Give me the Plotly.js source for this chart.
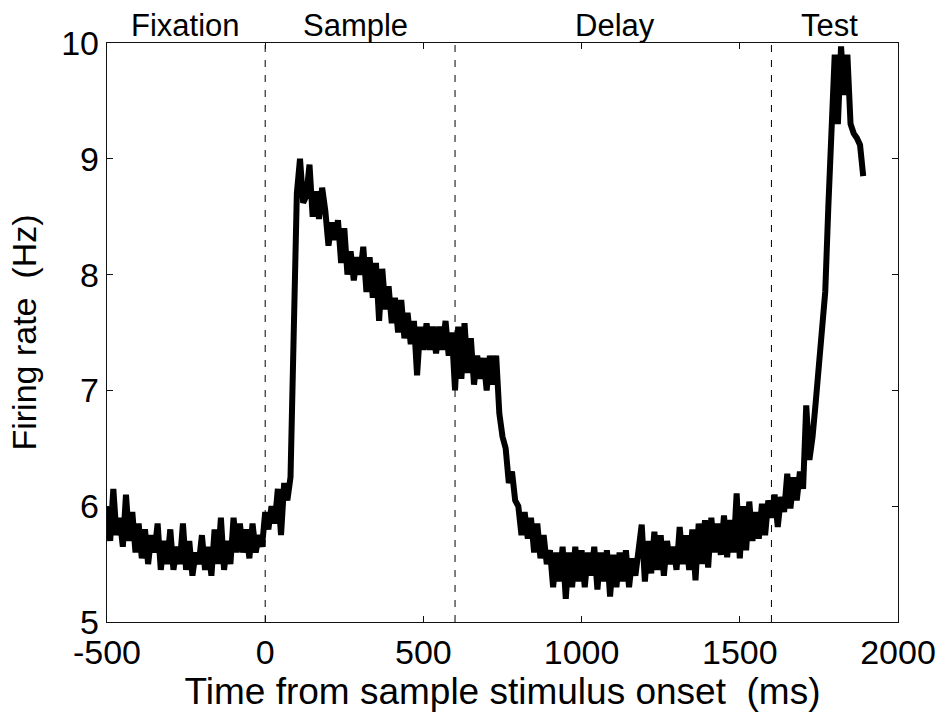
<!DOCTYPE html>
<html>
<head>
<meta charset="utf-8">
<script src="https://cdn.plot.ly/plotly-3.0.1.min.js"></script>
<style>
  html, body { margin: 0; padding: 0; background: #fff; }
  #chart { width: 948px; height: 718px; }
</style>
</head>
<body>
<div id="chart"></div>
<script>
// Population firing rate, 10 ms bins starting at -500 ms
const binStart = -500;
const binWidth = 10;

const fixationRate = [
  6.0, 5.7, 6.15, 5.75, 5.9, 5.65, 6.1, 5.7, 5.95, 5.6,
  5.85, 5.55, 5.8, 5.5, 5.75, 5.6, 5.85, 5.45, 5.7, 5.5,
  5.8, 5.45, 5.65, 5.5, 5.85, 5.45, 5.7, 5.4, 5.6, 5.5,
  5.75, 5.45, 5.65, 5.4, 5.8, 5.5, 5.9, 5.45, 5.7, 5.5,
  5.9, 5.6, 5.85, 5.6, 5.8, 5.55, 5.85, 5.6, 5.75, 5.65
];
const sampleRate = [
  5.95, 5.8, 6.0, 5.85, 6.15, 5.75, 6.2, 6.05, 6.25, 7.4,
  8.7, 9.0, 8.62, 8.68, 8.95, 8.5, 8.72, 8.48, 8.75, 8.55,
  8.25, 8.45, 8.3, 8.47, 8.1, 8.4, 8.0, 8.2, 7.95, 8.15,
  8.0, 8.24, 7.85, 8.15, 7.8, 8.1, 7.6, 8.05, 7.7, 7.9,
  7.58, 7.8, 7.5, 7.78, 7.45, 7.67, 7.4, 7.6, 7.13, 7.55,
  7.35, 7.58, 7.35, 7.55, 7.32, 7.55, 7.35, 7.6, 7.3, 7.5
];
const delayRate = [
  7.0, 7.55, 7.1, 7.58, 7.15, 7.45, 7.05, 7.3, 7.1, 7.28,
  7.0, 7.3, 7.05, 7.3, 6.8, 6.6, 6.5, 6.2, 6.3, 6.05,
  6.0, 5.75, 5.95, 5.72, 5.9, 5.6, 5.85, 5.55, 5.75, 5.5,
  5.62, 5.3, 5.6, 5.35, 5.65, 5.2, 5.6, 5.3, 5.65, 5.35,
  5.62, 5.3, 5.6, 5.4, 5.65, 5.28, 5.6, 5.35, 5.62, 5.22,
  5.58, 5.3, 5.6, 5.35, 5.62, 5.3, 5.55, 5.4, 5.6, 5.84,
  5.35, 5.7, 5.42, 5.78, 5.45, 5.75, 5.4, 5.7, 5.5, 5.65,
  5.45, 5.82, 5.5, 5.75, 5.45, 5.8, 5.36, 5.85, 5.5, 5.88,
  5.47, 5.9, 5.6, 5.85, 5.58, 5.92, 5.56, 5.88, 5.6, 6.11,
  5.55, 6.0, 5.62, 6.04, 5.7, 5.95, 5.72, 6.02, 5.75, 6.05
];
const testRate = [
  5.9, 6.1, 5.82, 6.08, 5.95, 6.28, 5.98, 6.25, 6.05, 6.3,
  6.15, 6.87, 6.4, 6.6, 6.9, 7.25, 7.5, 7.85, 8.6, 9.3,
  9.9, 9.3, 9.97, 9.55, 9.9, 9.3, 9.22, 9.18, 9.12, 8.85
];

const rate = fixationRate.concat(sampleRate, delayRate, testRate);
const time = rate.map((_, i) => binStart + i * binWidth);

// Task epoch boundaries and labels
const epochBounds = [0, 600, 1600];
const epochNames = ['Fixation', 'Sample', 'Delay', 'Test'];
const epochLabelPos = [-253, 284, 1105, 1785];

const xTicks = [-500, 0, 500, 1000, 1500, 2000];
const yTicks = [5, 6, 7, 8, 9, 10];

const FONT = '"Liberation Sans", Arial, Helvetica, sans-serif';

const trace = {
  x: time,
  y: rate,
  type: 'scatter',
  mode: 'lines',
  line: { color: '#000', width: 6, shape: 'linear' },
  hoverinfo: 'skip'
};

const axisCommon = {
  showline: true,
  linecolor: '#111',
  linewidth: 1.2,
  mirror: 'allticks',
  ticks: 'inside',
  ticklen: 6,
  tickwidth: 1.2,
  tickcolor: '#111',
  showgrid: false,
  zeroline: false,
  tickfont: { family: FONT, size: 34, color: '#000' }
};

const layout = {
  width: 948,
  height: 718,
  margin: { l: 107, r: 50, t: 43, b: 96 },
  paper_bgcolor: '#fff',
  plot_bgcolor: '#fff',
  showlegend: false,
  font: { family: FONT, color: '#000' },
  xaxis: Object.assign({}, axisCommon, {
    range: [-500, 2000],
    tickmode: 'array',
    tickvals: xTicks,
    ticktext: xTicks.map(String),
    title: { text: 'Time from sample stimulus onset\u00a0\u00a0(ms)', font: { family: FONT, size: 37, color: '#000' }, standoff: 2 }
  }),
  yaxis: Object.assign({}, axisCommon, {
    range: [5, 10],
    tickmode: 'array',
    tickvals: yTicks,
    ticktext: yTicks.map(String),
    title: { text: 'Firing rate\u00a0\u00a0(Hz)', font: { family: FONT, size: 34, color: '#000' }, standoff: 14 }
  }),
  shapes: epochBounds.map(b => ({
    type: 'line', xref: 'x', yref: 'paper',
    x0: b, x1: b, y0: 0, y1: 1,
    line: { color: '#000', width: 1, dash: '7px,8px' },
    layer: 'below'
  })),
  annotations: epochNames.map((name, i) => ({
    text: name, xref: 'x', yref: 'paper',
    x: epochLabelPos[i], y: 1.031,
    xanchor: 'center', yanchor: 'middle',
    showarrow: false,
    font: { family: FONT, size: 31, color: '#000' }
  }))
};

Plotly.newPlot('chart', [trace], layout, { displayModeBar: false, staticPlot: true });
</script>
</body>
</html>
